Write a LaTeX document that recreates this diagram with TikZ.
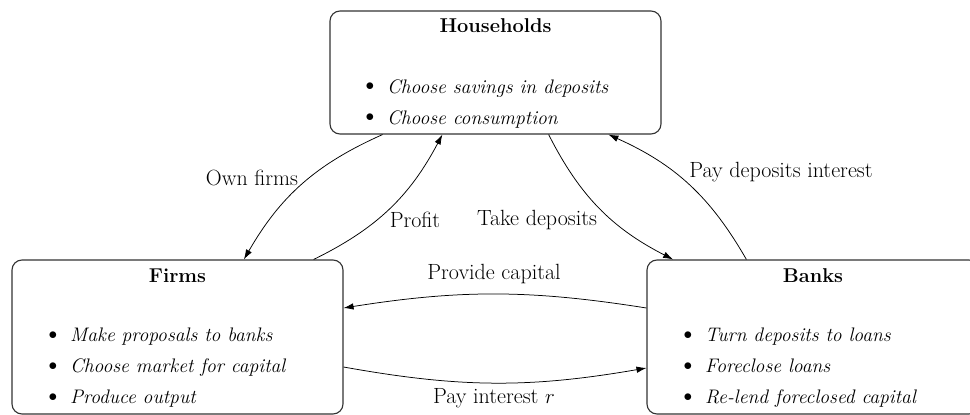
\documentclass[tikz,border=0pt]{standalone}
\usetikzlibrary{arrows.meta,calc}
\begin{document}
\begin{tikzpicture}[x=1pt,y=-1pt,
  box/.style={draw=black!80,line width=1.1pt,rounded corners=10pt,inner sep=0pt},
  txt/.style={inner sep=0pt,anchor=base west,font=\fontsize{19.6}{23}\selectfont\itshape},
  ttl/.style={inner sep=0pt,anchor=base,font=\fontsize{20}{24}\selectfont\bfseries},
  bul/.style={inner sep=0pt,anchor=center,font=\fontsize{19}{23}\selectfont},
  lbl/.style={inner sep=0pt,font=\fontsize{22}{26}\selectfont},
  flow/.style={line width=0.75pt,-{Latex[length=10pt,width=6.5pt]}}]
\clip (0,0) rectangle (970,415);
% boxes
\node[box,minimum width=331pt,minimum height=123pt] (hh) at (495.5,72.5) {};
\node[box,minimum width=331pt,minimum height=154pt] (fi) at (177.5,337) {};
\node[box,minimum width=332pt,minimum height=154pt] (ba) at (813,337) {};
% titles
\node[ttl] (hht) at (495.5,32) {Households};
\node[ttl] (fit) at (177.5,282) {Firms};
\node[ttl] (bat) at (813,282) {Banks};
% households bullets
\node[bul] (hb1) at (370,87) {$\bullet$};
\node[txt] (h1) at (387,93) {Choose savings in deposits};
\node[bul] (hb2) at (370,118) {$\bullet$};
\node[txt] (h2) at (387,124) {Choose consumption};
% firms bullets
\node[bul] (fb1) at (53,336) {$\bullet$};
\node[txt] (f1) at (70,341) {Make proposals to banks};
\node[bul] (fb2) at (53,367) {$\bullet$};
\node[txt] (f2) at (70,372) {Choose market for capital};
\node[bul] (fb3) at (53,398) {$\bullet$};
\node[txt] (f3) at (70,403) {Produce output};
% banks bullets
\node[bul] (bb1) at (688,336) {$\bullet$};
\node[txt] (b1) at (705,341) {Turn deposits to loans};
\node[bul] (bb2) at (688,367) {$\bullet$};
\node[txt] (b2) at (705,372) {Foreclose loans};
\node[bul] (bb3) at (688,398) {$\bullet$};
\node[txt] (b3) at (705,403) {Re-lend foreclosed capital};
% endpoints
\coordinate (hA) at ($(hh.south west)!0.16!(hh.south east)$);
\coordinate (hB) at ($(hh.south west)!0.34!(hh.south east)$);
\coordinate (hC) at ($(hh.south west)!0.66!(hh.south east)$);
\coordinate (hD) at ($(hh.south west)!0.84!(hh.south east)$);
\coordinate (fA) at ($(fi.north west)!0.70!(fi.north east)$);
\coordinate (fB) at ($(fi.north west)!0.91!(fi.north east)$);
\coordinate (bA) at ($(ba.north west)!0.08!(ba.north east)$);
\coordinate (bB) at ($(ba.north west)!0.30!(ba.north east)$);
\coordinate (fE1) at (fi.east |- 0,308);
\coordinate (fE2) at (fi.east |- 0,367);
\coordinate (bW1) at (ba.west |- 0,308);
\coordinate (bW2) at (ba.west |- 0,368);
% flows
\draw[flow] (hA) to[bend right=18] (fA);
\draw[flow] (fB) to[bend right=18] (hB);
\draw[flow] (hC) to[bend right=18] (bA);
\draw[flow] (bB) to[bend right=18] (hD);
\draw[flow] (bW1) to[bend right=9] (fE1);
\draw[flow] (fE2) to[bend right=10] (bW2);
% labels
\node[lbl] (l1) at (252,178) {Own firms};
\node[lbl] (l2) at (415,220) {Profit};
\node[lbl] (l3) at (537,220) {Take deposits};
\node[lbl] (l4) at (781,172) {Pay deposits interest};
\node[lbl] (l5) at (494,274) {Provide capital};
\node[lbl] (l6) at (494,398) {Pay interest $r$};
\end{tikzpicture}
\end{document}
